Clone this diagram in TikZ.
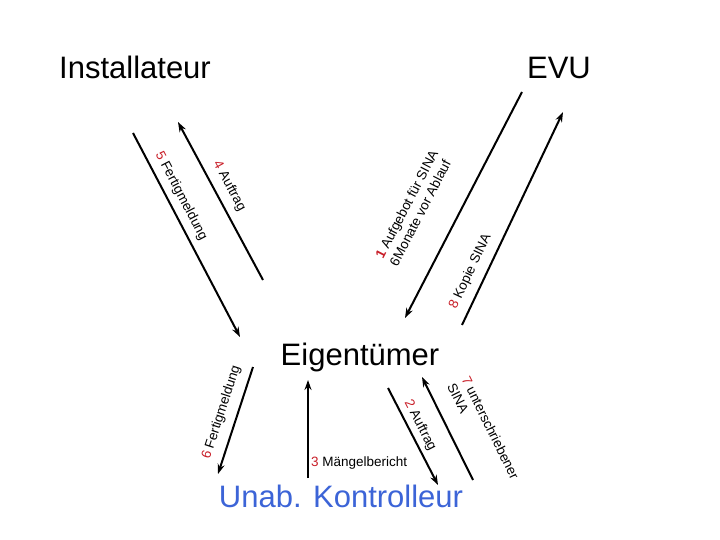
\documentclass[tikz,border=0pt]{standalone}
\usepackage{fontspec}
\setmainfont{Liberation Sans}
\usepackage{xcolor}
\usetikzlibrary{arrows.meta, positioning}
\definecolor{numred}{RGB}{200,30,40}
\definecolor{kontblue}{RGB}{60,100,215}
\newcommand{\nr}[1]{\textcolor{numred}{#1}}

\begin{document}
\begin{tikzpicture}[x=1pt, y=-1pt,
    party/.style={font=\fontsize{31}{36}\selectfont, anchor=base, inner sep=0pt},
    msg/.style={font=\fontsize{13.5}{16}\selectfont, sloped, inner sep=1pt, align=left},
    arr/.style={-{Stealth[length=10pt, width=7pt]}, line width=2pt},
  ]
  \useasboundingbox (0,0) rectangle (720,540);

  \node[party] (inst) at (135,79) {Installateur};
  \node[party] (evu) at (559,79) {EVU};
  \node[party] (eig) at (360,365) {Eigentümer};
  \node[party, text=kontblue] (kont) at (341,507) {Unab. Kontrolleur};

  % line ends
  \coordinate (a1) at (522,92);  \coordinate (b1) at (405,318);
  \coordinate (a2) at (388,388); \coordinate (b2) at (438,485);
  \coordinate (a3) at (308,478); \coordinate (b3) at (308,380);
  \coordinate (a4) at (263,280); \coordinate (b4) at (178,122);
  \coordinate (a5) at (133,133); \coordinate (b5) at (240,337);
  \coordinate (a6) at (253,367); \coordinate (b6) at (218,474);
  \coordinate (a7) at (473,480); \coordinate (b7) at (422,377);
  \coordinate (a8) at (462,325); \coordinate (b8) at (563,112);

  \draw[arr] (a1) -- node[msg, pos=0.6, above=28pt] (t1) {\textbf{\nr{1}} Aufgebot für SINA\\6Monate vor Ablauf} (b1);
  \draw[arr] (a2) -- node[msg, pos=0.44, above=3pt] (t2) {\nr{2} Auftrag} (b2);
  \draw[arr] (a3) -- (b3);
  \node[font=\fontsize{13.5}{16}\selectfont, inner sep=0pt, anchor=west] (t3) at (311,463) {\nr{3} Mängelbericht};
  \draw[arr] (a4) -- node[msg, pos=0.55, above=6.5pt] (t4) {\nr{4} Auftrag} (b4);
  \draw[arr] (a5) -- node[msg, pos=0.34, above=5pt] (t5) {\nr{5} Fertigmeldung} (b5);
  \draw[arr] (a6) -- node[msg, pos=0.47, above=7.5pt] (t6) {\nr{6} Fertigmeldung} (b6);
  \draw[arr] (a7) -- node[msg, pos=0.34, above=16pt] (t7) {\nr{7} unterschriebener\\SINA} (b7);
  \draw[arr] (a8) -- node[msg, pos=0.22, above=7pt] (t8) {\nr{8} Kopie SINA} (b8);
\end{tikzpicture}
\end{document}
